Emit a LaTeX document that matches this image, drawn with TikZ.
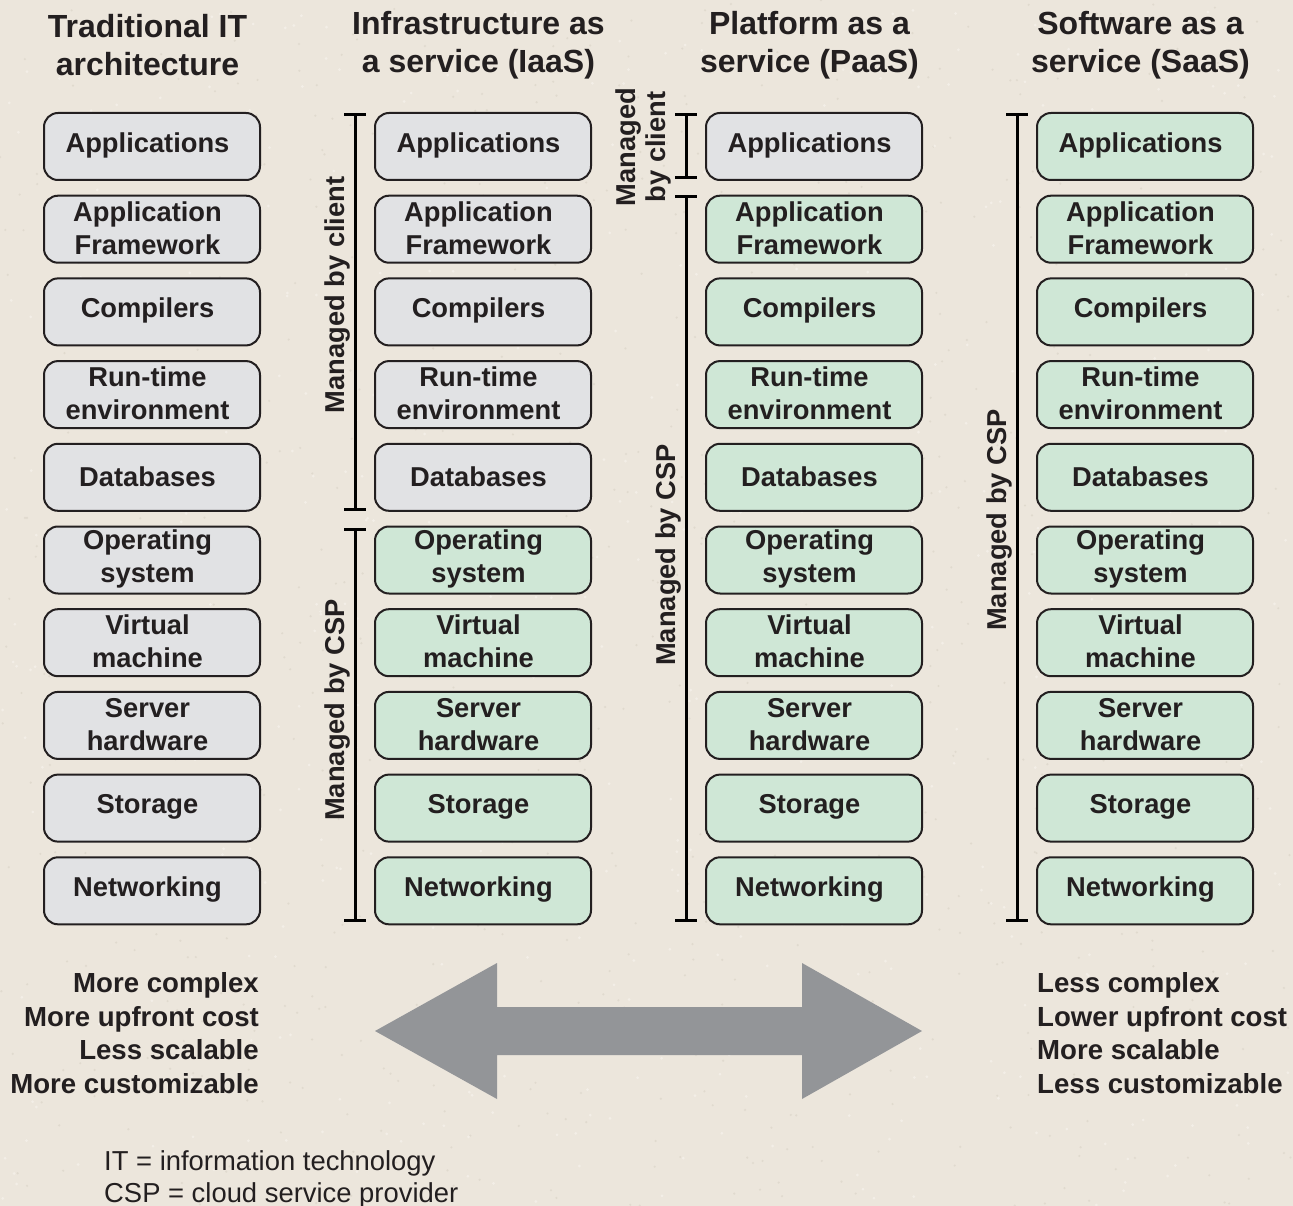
\documentclass[tikz,border=0pt]{standalone}
\usepackage{fontspec}
\setmainfont{Liberation Sans}
\definecolor{bg}{HTML}{ECE6DC}
\definecolor{speck}{HTML}{D9D2C6}
\definecolor{speckl}{HTML}{F5F1EA}
\definecolor{grayfill}{HTML}{E1E2E4}
\definecolor{greenfill}{HTML}{CFE7D6}
\definecolor{arrowgray}{HTML}{939598}
\definecolor{txt}{HTML}{231F20}
\newcommand\boxfont{\fontsize{27.3}{33}\selectfont\bfseries}
\newcommand\headfont{\fontsize{32}{38}\selectfont\bfseries}
\newcommand\notefont{\fontsize{27.6}{33.5}\selectfont\bfseries}
\newcommand\footfont{\fontsize{27.4}{32}\selectfont}
\begin{document}
\begin{tikzpicture}[x=1pt,y=-1pt,
  box/.style={draw=txt, line width=2pt, rounded corners=14pt,
    minimum width=216pt, minimum height=67pt, inner sep=0pt},
  gbox/.style={box, fill=grayfill},
  cbox/.style={box, fill=greenfill},
  boxtext/.style={align=center, font=\boxfont, text=txt, inner sep=0pt},
  head/.style={align=center, font=\headfont, text=txt, inner sep=0pt},
  side/.style={rotate=90, font=\boxfont, text=txt, inner sep=0pt, align=center},
  brk/.style={draw=black, line width=3pt},
  note/.style={font=\notefont, text=txt, inner sep=0pt}
]
\fill[bg] (0,0) rectangle (1293,1206);
\useasboundingbox (0,0) rectangle (1293,1206);
% paper texture
\pgfmathsetseed{7}
\foreach \k in {1,...,900}{
  \pgfmathsetmacro{\px}{rnd*1293}
  \pgfmathsetmacro{\py}{rnd*1206}
  \fill[speck, opacity=0.6] (\px,\py) circle (1.2pt);
}
\foreach \k in {1,...,600}{
  \pgfmathsetmacro{\px}{rnd*1293}
  \pgfmathsetmacro{\py}{rnd*1206}
  \fill[speckl, opacity=0.8] (\px,\py) circle (1.5pt);
}

% headers
\node[head] (h0) at (147.5,45) {Traditional IT\\architecture};
\node[head] (h1) at (478.5,45) {Infrastructure as\\a service (IaaS)};
\node[head] (h2) at (809.5,45) {Platform as a\\service (PaaS)};
\node[head] (h3) at (1140.5,45) {Software as a\\service (SaaS)};

% boxes
\foreach \j in {0,1,2,3}{
  \foreach \i/\t in {0/Applications,1/Application\\Framework,2/Compilers,3/Run-time\\environment,4/Databases,5/Operating\\system,6/Virtual\\machine,7/Server\\hardware,8/Storage,9/Networking}{
    \pgfmathsetmacro{\xx}{152+331*\j}
    \pgfmathsetmacro{\yy}{146.5+82.7*\i}
    \pgfmathtruncatemacro{\green}{(\j==1 && \i>4) || (\j==2 && \i>0) || (\j==3) ? 1 : 0}
    \ifnum\green=1
      \node[cbox] (b\j-\i) at (\xx,\yy) {};
    \else
      \node[gbox] (b\j-\i) at (\xx,\yy) {};
    \fi
    \node[boxtext] (t\j-\i) at ([xshift=-4.5pt,yshift=1pt]b\j-\i.center) {\t};
  }
}

% bracket coordinates
\coordinate (ia) at (355,115);  \coordinate (ib) at (355,509);
\coordinate (ic) at (355,529);  \coordinate (id) at (355,920);
\coordinate (pa) at (686,115);  \coordinate (pb) at (686,178);
\coordinate (pc) at (686,197);  \coordinate (pd) at (686,920);
\coordinate (sa) at (1017,115); \coordinate (sb) at (1017,920);
\foreach \a/\b in {ia/ib,ic/id,pa/pb,pc/pd,sa/sb}{
  \draw[brk] (\a) -- (\b);
  \draw[brk] ([xshift=-11pt]\a) -- ([xshift=11pt]\a);
  \draw[brk] ([xshift=-11pt]\b) -- ([xshift=11pt]\b);
}

% side labels
\node[side] (l1) at (337,295) {Managed by client};
\node[side] (l2) at (337,710) {Managed by CSP};
\node[side, font=\fontsize{27.3}{30}\selectfont\bfseries] (l3) at (643,147) {Managed\\by client};
\node[side] (l4) at (668,555) {Managed by CSP};
\node[side] (l5) at (999,520) {Managed by CSP};

% double arrow
\fill[arrowgray] (375,1031) -- (497,963) -- (497,1007) -- (802,1007) -- (802,963)
  -- (922,1031) -- (802,1099) -- (802,1055) -- (497,1055) -- (497,1099) -- cycle;

% notes
\node[note, align=right, anchor=east] (nl) at (259,1033)
  {More complex\\More upfront cost\\Less scalable\\More customizable};
\node[note, align=left, anchor=west] (nr) at (1037,1033)
  {Less complex\\Lower upfront cost\\More scalable\\Less customizable};

% footer
\node[font=\footfont, text=txt, align=left, anchor=west, inner sep=0pt] (ft) at (104,1179)
  {IT = information technology\\CSP = cloud service provider};
\end{tikzpicture}
\end{document}
